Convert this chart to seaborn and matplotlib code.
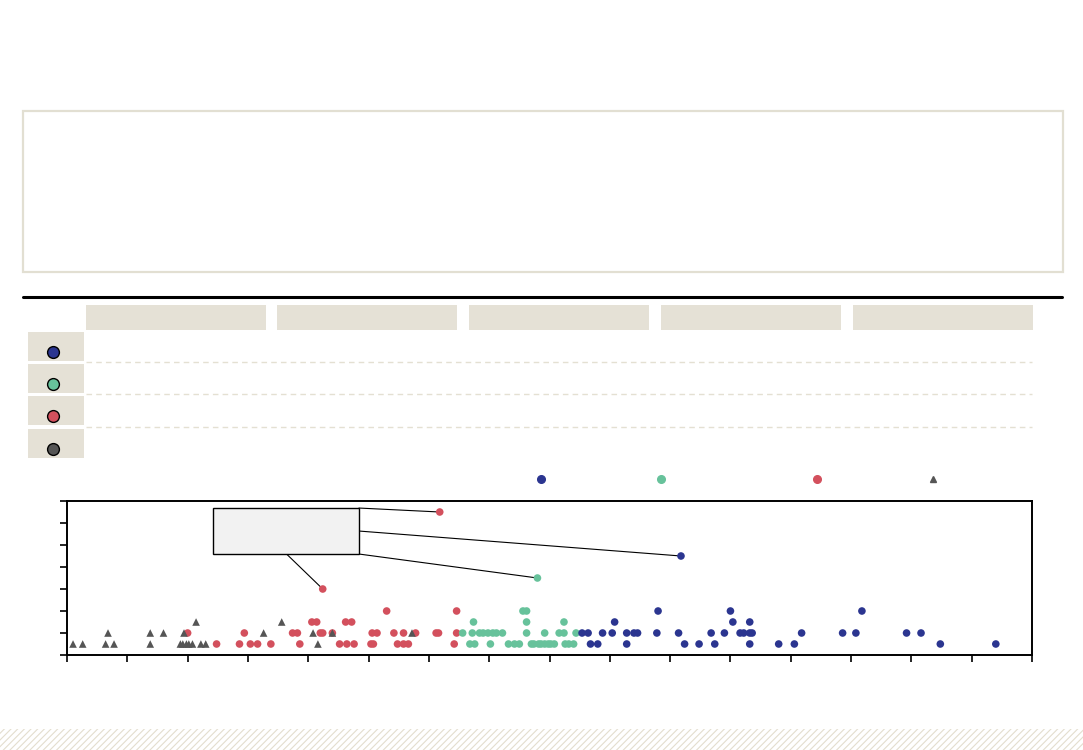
import numpy as np
import pandas as pd
import matplotlib
matplotlib.use('Agg')
import matplotlib.pyplot as plt
import seaborn as sns
from matplotlib.patches import Rectangle
from matplotlib.lines import Line2D

sns.set_style('white')
plt.rcParams['font.family'] = ['DejaVu Sans']

# series values (x position, count)
blue_x = [43.4, 44.0, 46.4, 51.2, 52.4, 53.7, 56.6, 59.0, 60.3, 72.4, 77.0,
          42.7, 43.2, 44.4, 45.2, 46.4, 47.0, 47.3, 48.9, 50.7, 53.4, 54.5, 55.8, 56.1, 56.6, 56.8,
          60.9, 64.3, 65.4, 69.6, 70.8,
          45.4, 55.2, 56.6,
          49.0, 55.0, 65.9,
          50.9]
blue_y = [1] * 11 + [2] * 20 + [3] * 3 + [4] * 3 + [9]

green_x = [33.4, 33.8, 35.1, 36.6, 37.1, 37.5, 38.5, 38.7, 39.1, 39.3, 39.6, 39.9, 40.1, 40.4, 41.3, 41.6, 42.0,
           32.8, 33.6, 34.2, 34.5, 34.9, 35.3, 35.6, 36.1, 38.1, 39.6, 40.8, 41.2, 42.2,
           33.7, 38.1, 41.2,
           37.8, 38.1,
           39.0]
green_y = [1] * 17 + [2] * 13 + [3] * 3 + [4] * 2 + [7]

red_x = [12.4, 14.3, 15.2, 15.8, 16.9, 19.3, 22.6, 23.2, 23.8, 25.2, 25.4, 27.4, 27.9, 28.3, 32.1,
         10.0, 14.7, 18.7, 19.1, 21.0, 21.2, 22.0, 25.3, 25.7, 27.1, 27.9, 28.9, 30.6, 30.8, 32.3,
         20.3, 20.7, 23.1, 23.6,
         26.5, 32.3,
         21.2,
         30.9]
red_y = [1] * 15 + [2] * 15 + [3] * 4 + [4] * 2 + [6] + [13]

grey_x = [0.5, 1.3, 3.2, 3.9, 6.9, 9.4, 9.6, 9.9, 10.1, 10.4, 11.1, 11.5, 20.8,
          3.4, 6.9, 8.0, 9.7, 16.3, 20.4, 22.0, 28.6,
          10.7, 17.8]
grey_y = [1] * 13 + [2] * 8 + [3] * 2

groups = ['red', 'green', 'blue', 'grey']
colors = {'blue': '#2b3590', 'green': '#67c29b', 'red': '#d3505d', 'grey': '#555555'}
markers = {'blue': 'o', 'green': 'o', 'red': 'o', 'grey': '^'}

W, H = 1083, 750
BEIGE = '#e5e1d6'


def fig_box(fig, x0, y0, x1, y1, **kw):
    fig.add_artist(Rectangle((x0 / W, 1 - y1 / H), (x1 - x0) / W, (y1 - y0) / H,
                             transform=fig.transFigure, **kw))


def fig_line(fig, xs, ys, **kw):
    fig.add_artist(Line2D([x / W for x in xs], [1 - y / H for y in ys],
                          transform=fig.transFigure, **kw))


def build_frame():
    parts = []
    for name, xs, ys in [('red', red_x, red_y), ('green', green_x, green_y),
                         ('blue', blue_x, blue_y), ('grey', grey_x, grey_y)]:
        parts.append(pd.DataFrame({'x': xs, 'y': ys, 'group': name}))
    return pd.concat(parts, ignore_index=True)


def draw_header(fig):
    # empty summary box and rule
    fig_box(fig, 23, 111, 1063, 272, facecolor='white', edgecolor='#e2dfd2', lw=1.6)
    fig_line(fig, [23, 1062], [297, 297], color='black', lw=2.2)

    # table header cells
    for x0 in [86, 277, 469, 661, 853]:
        fig_box(fig, x0, 305, x0 + 180, 330, facecolor=BEIGE, edgecolor='none')

    # row label cells with series markers
    row_tops = [332, 364, 396, 429]
    for top, name in zip(row_tops, ['blue', 'green', 'red', 'grey']):
        fig_box(fig, 28, top, 84, top + 29, facecolor=BEIGE, edgecolor='none')
        fig_line(fig, [53], [top + 20], marker='o', markersize=8.5, color=colors[name],
                 markeredgecolor='black', markeredgewidth=1, linestyle='none')
    for y in [361.5, 394, 427]:
        fig_line(fig, [86, 1032], [y, y], color='#e4e0d2', lw=1, dashes=(4, 3))

    # legend row
    for px, name in zip([541, 661, 817, 933], ['blue', 'green', 'red', 'grey']):
        fig_line(fig, [px], [479], marker=markers[name],
                 markersize=5 if name == 'grey' else 5.5, color=colors[name],
                 linestyle='none')

    # hatched footer band
    plt.rcParams['hatch.linewidth'] = 0.8
    fig_box(fig, 0, 729, 1083, 750, facecolor='white', edgecolor='#e3dece', lw=0, hatch='/////')


def draw_scatter(fig, df):
    ax = fig.add_axes([67 / W, 1 - 655 / H, (1032 - 67) / W, (655 - 501) / H])
    sns.scatterplot(data=df, x='x', y='y', hue='group', style='group',
                    palette=colors, markers=markers, s=30, edgecolor='none',
                    legend=False, ax=ax, zorder=3)
    ax.set_xlim(0, 80)
    ax.set_ylim(0, 14)
    ax.set_xticks(np.arange(0, 81, 5))
    ax.set_yticks(np.arange(0, 15, 2))
    ax.set_xticklabels([])
    ax.set_yticklabels([])
    ax.set_xlabel('')
    ax.set_ylabel('')
    ax.tick_params(direction='out', length=5, width=1.2, color='black', bottom=True, left=True)
    for sp in ax.spines.values():
        sp.set_color('black')
        sp.set_linewidth(1.4)

    # callout box with leader lines to the highlighted points
    ax.add_patch(Rectangle((12.1, 9.18), 12.1, 4.18, facecolor='#f2f2f2',
                           edgecolor='black', lw=1, zorder=4))
    leaders = [((24.2, 13.36), (red_x[-1], red_y[-1])),
               ((24.2, 11.27), (blue_x[-1], blue_y[-1])),
               ((24.2, 9.18), (green_x[-1], green_y[-1])),
               ((18.2, 9.18), (red_x[-2], red_y[-2]))]
    for (x0, y0), (x1, y1) in leaders:
        ax.plot([x0, x1], [y0, y1], color='black', lw=0.8, zorder=2)
    return ax


def main():
    fig = plt.figure(figsize=(W / 100, H / 100), dpi=100)
    draw_header(fig)
    draw_scatter(fig, build_frame())
    fig.savefig('out.png', dpi=100)


if __name__ == "__main__":
    main()
